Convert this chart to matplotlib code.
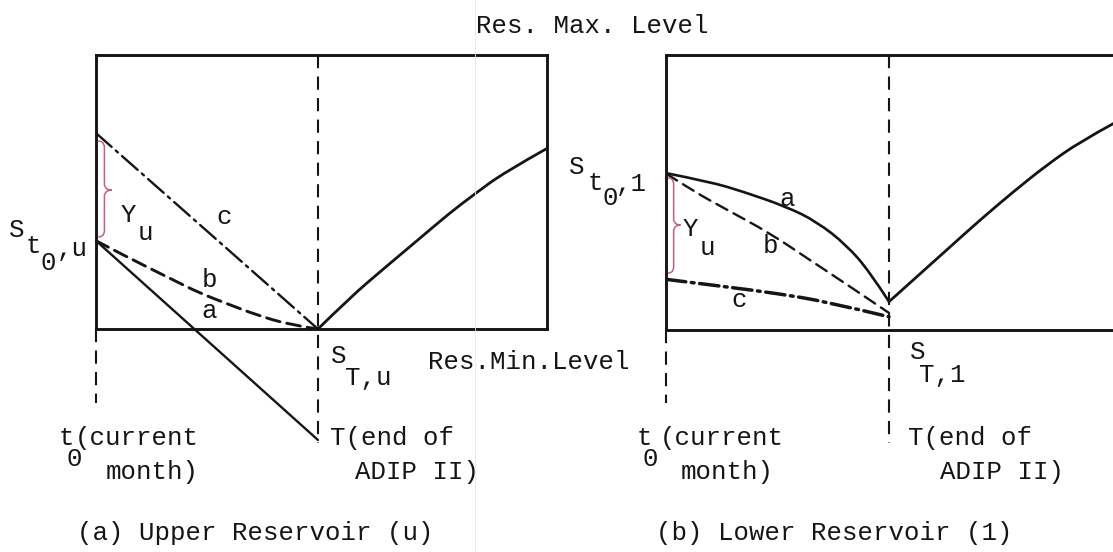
import matplotlib
matplotlib.use("Agg")
from matplotlib import pyplot as plt
from matplotlib.path import Path
from matplotlib.patches import PathPatch

plt.rcParams['lines.scale_dashes'] = False

W, H = 1113, 552
FS = 18.5
FONT = 'Liberation Mono'
INK = '#151515'
RED = '#c4607e'

# x: 0 = t0 (current month), 1 = T (end of ADIP II); y: 0 = min level, 1 = max level
# (a) upper reservoir
up_a_x = [0.0, 1.0]
up_a_y = [0.322, -0.405]
up_b_x = [0.0, 0.122, 0.365, 0.468, 0.604, 0.725, 0.874, 1.0]
up_b_y = [0.322, 0.270, 0.172, 0.131, 0.088, 0.051, 0.015, 0.0]
up_c_x = [0.0, 1.0]
up_c_y = [0.715, 0.0]
up_after_x = [1.0, 1.146, 1.296, 1.446, 1.596, 1.702, 1.836, 2.032]
up_after_y = [0.0, 0.116, 0.220, 0.322, 0.425, 0.490, 0.570, 0.659]

# (b) lower reservoir
lo_a_x = [0.0, 0.195, 0.345, 0.540, 0.675, 0.809, 0.913, 1.0]
lo_a_y = [0.570, 0.539, 0.503, 0.448, 0.394, 0.309, 0.212, 0.103]
lo_b_x = [0.0, 0.120, 0.270, 0.465, 0.645, 0.810, 1.0]
lo_b_y = [0.568, 0.505, 0.438, 0.352, 0.254, 0.166, 0.062]
lo_c_x = [0.0, 0.270, 0.495, 0.720, 1.0]
lo_c_y = [0.184, 0.157, 0.133, 0.103, 0.048]
lo_after_x = [1.0, 1.109, 1.259, 1.409, 1.559, 1.709, 1.859, 2.009]
lo_after_y = [0.103, 0.182, 0.291, 0.400, 0.503, 0.600, 0.685, 0.751]


def put(fig, px, py, s, ha='center', **kw):
    fig.text(px / W, 1 - py / H, s, ha=ha, va='center', fontsize=FS,
             family=FONT, color=INK, **kw)


def curve(ax, xs, ys, lw, ls='-', clip=True):
    # smooth quadratic path through the read points (midpoint anchors)
    verts = [(xs[0], ys[0])]
    codes = [Path.MOVETO]
    n = len(xs)
    if n == 2:
        verts.append((xs[1], ys[1]))
        codes.append(Path.LINETO)
    else:
        for i in range(1, n - 1):
            if i == n - 2:
                anchor = (xs[i + 1], ys[i + 1])
            else:
                anchor = ((xs[i] + xs[i + 1]) / 2, (ys[i] + ys[i + 1]) / 2)
            verts += [(xs[i], ys[i]), anchor]
            codes += [Path.CURVE3, Path.CURVE3]
    ax.add_patch(PathPatch(Path(verts, codes), fill=False, edgecolor=INK,
                           lw=lw, linestyle=ls, capstyle='round',
                           clip_on=clip))


def brace(ax, x0, ytop, ybot, ytip, w):
    # curly brace "}" drawn as bezier path
    xm = x0 + w * 0.45
    r = (ytop - ybot) * 0.06
    verts = [(x0, ytop), (xm, ytop), (xm, ytop - r), (xm, ytop - r),
             (xm, ytip + r), (xm, ytip + r), (xm, ytip), (x0 + w, ytip),
             (xm, ytip), (xm, ytip - r), (xm, ytip - r),
             (xm, ybot + r), (xm, ybot + r), (xm, ybot), (x0, ybot)]
    codes = [Path.MOVETO, Path.CURVE4, Path.CURVE4, Path.CURVE4,
             Path.LINETO, Path.CURVE4, Path.CURVE4, Path.CURVE4,
             Path.CURVE4, Path.CURVE4, Path.CURVE4,
             Path.LINETO, Path.CURVE4, Path.CURVE4, Path.CURVE4]
    ax.add_patch(PathPatch(Path(verts, codes), fill=False, edgecolor=RED,
                           lw=1.1, clip_on=False))


def panel(fig, left_px, right_px, top_px, bot_px, xmax):
    ax = fig.add_axes([left_px / W, 1 - bot_px / H,
                       (right_px - left_px) / W, (bot_px - top_px) / H])
    ax.set_xlim(0, xmax)
    ax.set_ylim(0, 1)
    ax.set_xticks([])
    ax.set_yticks([])
    for sp in ax.spines.values():
        sp.set_linewidth(2.1)
        sp.set_color(INK)
    return ax


fig = plt.figure(figsize=(W / 100, H / 100), dpi=100)
fig.patch.set_facecolor('white')

# paper fold line of the scan
fig.add_artist(plt.Line2D([475 / W, 475 / W], [0, 1], color='#ece8d6', lw=0.6))

dash_v = (0, (9.5, 6))

# ---- (a) Upper reservoir
ax1 = panel(fig, 96, 547, 55, 329, 2.032)
ax1.plot([1, 1], [1, -0.416], color=INK, lw=1.5, ls=dash_v, clip_on=False)
ax1.plot([0, 0], [0, -0.27], color=INK, lw=1.5, ls=dash_v, clip_on=False)
curve(ax1, up_c_x, up_c_y, 1.7, (0, (15, 4, 2, 4)))
curve(ax1, up_b_x, up_b_y, 2.1, (0, (10, 5)))
curve(ax1, up_a_x, up_a_y, 1.7, clip=False)
curve(ax1, up_after_x, up_after_y, 2.0)
brace(ax1, 0.01, 0.686, 0.336, 0.507, 0.062)

# ---- (b) Lower reservoir
ax2 = panel(fig, 666.5, 1122, 55, 330, 2.047)
ax2.plot([1, 1], [1, -0.41], color=INK, lw=1.5, ls=dash_v, clip_on=False)
ax2.plot([0, 0], [0, -0.264], color=INK, lw=1.5, ls=dash_v, clip_on=False)
curve(ax2, lo_c_x, lo_c_y, 2.5, (0, (14, 4, 2, 4)))
curve(ax2, lo_b_x, lo_b_y, 1.7, (0, (9, 5)))
curve(ax2, lo_a_x, lo_a_y, 1.9)
curve(ax2, lo_after_x, lo_after_y, 2.0)
brace(ax2, 0.007, 0.553, 0.207, 0.382, 0.056)

# ---- texts
put(fig, 592, 26, "Res. Max. Level")

put(fig, 17, 230, "S")
put(fig, 33, 246, "t")
put(fig, 48, 263, "0")
put(fig, 57, 249, ",u", ha='left')
put(fig, 128, 215, "Y")
put(fig, 145, 233, "u")
put(fig, 224, 217, "c")
put(fig, 209, 280, "b")
put(fig, 209, 311, "a")

put(fig, 577, 167, "S")
put(fig, 595, 183, "t")
put(fig, 610, 198, "0")
put(fig, 616, 184, ",1", ha='left')
put(fig, 690, 229, "Y")
put(fig, 707, 248, "u")
put(fig, 787, 199, "a")
put(fig, 770, 246, "b")
put(fig, 739, 300, "c")

put(fig, 339, 356, "S")
put(fig, 368, 378, "T,u")
put(fig, 529, 362, "Res.Min.Level")
put(fig, 918, 352, "S")
put(fig, 942, 375, "T,1")

put(fig, 66, 438, "t")
put(fig, 74, 459, "0")
put(fig, 75, 438, "(current", ha='left')
put(fig, 106, 472, "month)", ha='left')
put(fig, 330, 438, "T(end of", ha='left')
put(fig, 355, 472, "ADIP II)", ha='left')

put(fig, 644, 438, "t")
put(fig, 650, 459, "0")
put(fig, 660, 438, "(current", ha='left')
put(fig, 681, 472, "month)", ha='left')
put(fig, 908, 438, "T(end of", ha='left')
put(fig, 940, 472, "ADIP II)", ha='left')

put(fig, 255, 533, "(a) Upper Reservoir (u)")
put(fig, 834, 533, "(b) Lower Reservoir (1)")

fig.savefig("out.png", dpi=100, facecolor='white')
